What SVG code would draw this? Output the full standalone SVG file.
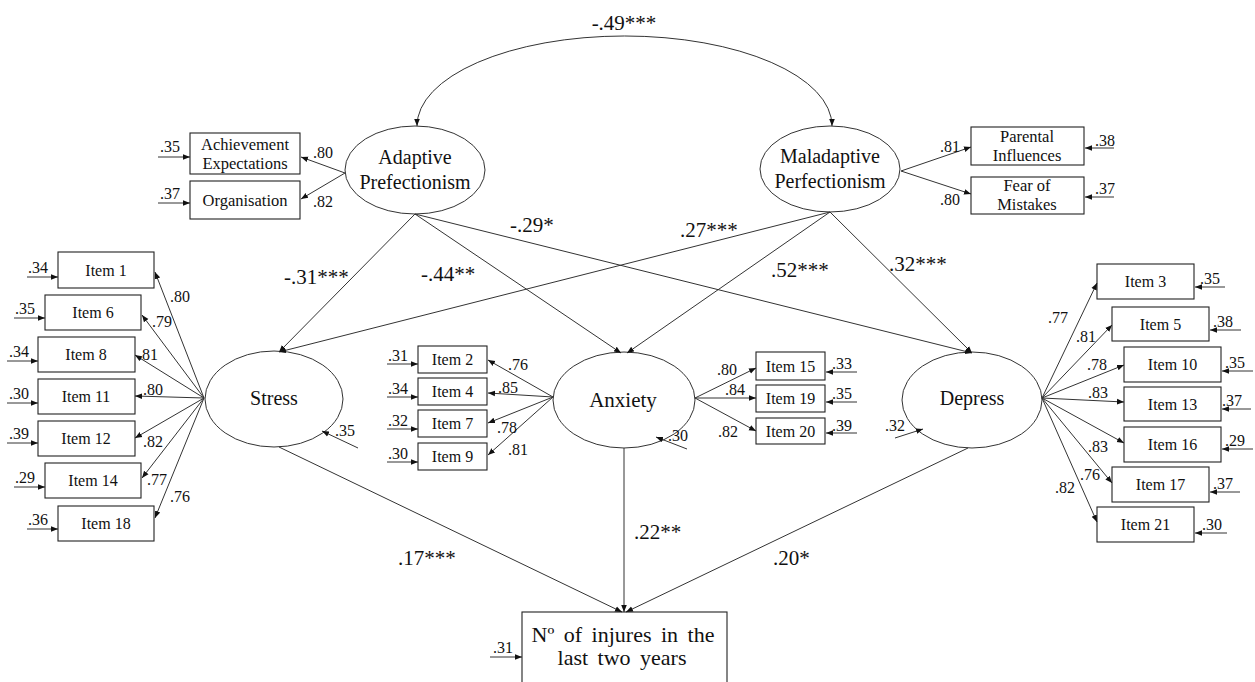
<svg xmlns="http://www.w3.org/2000/svg" width="1255" height="682" viewBox="0 0 1255 682" font-family="'Liberation Serif', 'Times New Roman', serif">
<style>
text{font-family:"Liberation Serif","Times New Roman",serif;fill:#111}
.lat{fill:#fff;stroke:#333;stroke-width:1}
.box{fill:#fff;stroke:#222;stroke-width:1.1}
.ln{stroke:#333;stroke-width:1;fill:none}
.lat-t{font-size:20px;text-anchor:middle}
.it{font-size:16px;text-anchor:middle}
.sm{font-size:16.5px;text-anchor:middle}
.ld{font-size:16px}
.pth{font-size:21px}
.out{font-size:22px;text-anchor:middle;word-spacing:4px}
</style>
<defs>
<marker id="ah" viewBox="0 0 10 10" refX="10" refY="5" markerWidth="7" markerHeight="7" orient="auto-start-reverse" markerUnits="userSpaceOnUse">
<path d="M0,1 L10,5 L0,9 z" fill="#111"/>
</marker>
</defs>

<!-- latent nodes -->
<g id="adaptive"><ellipse class="lat" cx="415" cy="170" rx="70" ry="44"/>
<text class="lat-t" x="415" y="164">Adaptive</text><text class="lat-t" x="415" y="189">Prefectionism</text></g>
<g id="maladaptive"><ellipse class="lat" cx="830" cy="169" rx="70" ry="43"/>
<text class="lat-t" x="830" y="163">Maladaptive</text><text class="lat-t" x="830" y="188">Perfectionism</text></g>
<g id="stress"><ellipse class="lat" cx="274" cy="399" rx="69" ry="48"/>
<text class="lat-t" x="274" y="405">Stress</text></g>
<g id="anxiety"><ellipse class="lat" cx="624" cy="400" rx="71" ry="48"/>
<text class="lat-t" x="623" y="407" style="font-size:21px">Anxiety</text></g>
<g id="depress"><ellipse class="lat" cx="972" cy="400" rx="70" ry="48"/>
<text class="lat-t" x="972" y="405">Depress</text></g>

<!-- perfectionism indicators -->
<g id="achievement"><rect class="box" x="190" y="133" width="110" height="41"/>
<text class="sm" x="245" y="150">Achievement</text><text class="sm" x="245" y="169">Expectations</text></g>
<g id="organisation"><rect class="box" x="190" y="181" width="110" height="38"/>
<text class="sm" x="245" y="206">Organisation</text></g>
<g id="parental"><rect class="box" x="971" y="127" width="113" height="38"/>
<text class="sm" x="1027" y="142">Parental</text><text class="sm" x="1027" y="161">Influences</text></g>
<g id="fear"><rect class="box" x="971" y="177" width="113" height="37"/>
<text class="sm" x="1027" y="191">Fear of</text><text class="sm" x="1027" y="210">Mistakes</text></g>

<!-- stress items -->
<g id="item1"><rect class="box" x="58" y="252" width="96" height="36"/><text class="it" x="106" y="276">Item 1</text></g>
<g id="item6"><rect class="box" x="45" y="295" width="96" height="35"/><text class="it" x="93" y="318">Item 6</text></g>
<g id="item8"><rect class="box" x="38" y="337" width="97" height="35"/><text class="it" x="86" y="360">Item 8</text></g>
<g id="item11"><rect class="box" x="38" y="379" width="97" height="35"/><text class="it" x="86" y="402">Item 11</text></g>
<g id="item12"><rect class="box" x="38" y="421" width="97" height="35"/><text class="it" x="86" y="444">Item 12</text></g>
<g id="item14"><rect class="box" x="45" y="463" width="96" height="35"/><text class="it" x="93" y="486">Item 14</text></g>
<g id="item18"><rect class="box" x="58" y="506" width="96" height="35"/><text class="it" x="106" y="529">Item 18</text></g>

<!-- anxiety items -->
<g id="item2"><rect class="box" x="418" y="346" width="69" height="27"/><text class="it" x="452.5" y="365">Item 2</text></g>
<g id="item4"><rect class="box" x="418" y="378" width="69" height="27"/><text class="it" x="452.5" y="397">Item 4</text></g>
<g id="item7"><rect class="box" x="418" y="410" width="69" height="27"/><text class="it" x="452.5" y="429">Item 7</text></g>
<g id="item9"><rect class="box" x="418" y="443" width="69" height="27"/><text class="it" x="452.5" y="462">Item 9</text></g>
<g id="item15"><rect class="box" x="756" y="352" width="69" height="28"/><text class="it" x="790.5" y="372">Item 15</text></g>
<g id="item19"><rect class="box" x="756" y="385" width="69" height="27"/><text class="it" x="790.5" y="404">Item 19</text></g>
<g id="item20"><rect class="box" x="756" y="418" width="69" height="26"/><text class="it" x="790.5" y="437">Item 20</text></g>

<!-- depress items -->
<g id="item3"><rect class="box" x="1097" y="264" width="97" height="35"/><text class="it" x="1145.5" y="287">Item 3</text></g>
<g id="item5"><rect class="box" x="1112" y="307" width="97" height="34"/><text class="it" x="1160.5" y="330">Item 5</text></g>
<g id="item10"><rect class="box" x="1124" y="347" width="97" height="35"/><text class="it" x="1172.5" y="370">Item 10</text></g>
<g id="item13"><rect class="box" x="1124" y="387" width="97" height="34"/><text class="it" x="1172.5" y="410">Item 13</text></g>
<g id="item16"><rect class="box" x="1124" y="427" width="97" height="35"/><text class="it" x="1172.5" y="450">Item 16</text></g>
<g id="item17"><rect class="box" x="1112" y="467" width="97" height="35"/><text class="it" x="1160.5" y="490">Item 17</text></g>
<g id="item21"><rect class="box" x="1097" y="507" width="97" height="35"/><text class="it" x="1145.5" y="530">Item 21</text></g>

<!-- outcome -->
<g id="injuries"><rect class="box" x="522" y="612" width="205" height="80"/>
<text class="out" x="623" y="642">Nº of injures in the</text>
<text class="out" x="622" y="665">last two years</text></g>

<g id="connectors" class="ln" marker-end="url(#ah)">
<path d="M417,126 A 207.5,90 0 0 1 832,126" marker-start="url(#ah)"/>
<line x1="345" y1="173" x2="301" y2="157"/>
<line x1="345" y1="173" x2="301" y2="199"/>
<line x1="158" y1="157" x2="190" y2="157"/>
<line x1="158" y1="203" x2="190" y2="203"/>
<line x1="901" y1="171" x2="971" y2="147"/>
<line x1="901" y1="171" x2="971" y2="194"/>
<line x1="1114" y1="148" x2="1085" y2="148"/>
<line x1="1114" y1="197" x2="1085" y2="197"/>
<line x1="415" y1="214" x2="279" y2="352"/>
<line x1="415" y1="214" x2="621" y2="353"/>
<line x1="415" y1="214" x2="972" y2="353"/>
<line x1="830" y1="212" x2="279" y2="352"/>
<line x1="830" y1="212" x2="627" y2="353"/>
<line x1="830" y1="212" x2="972" y2="353"/>
<line x1="279" y1="447" x2="622" y2="612"/>
<line x1="624" y1="448" x2="624" y2="612"/>
<line x1="968" y1="448" x2="626" y2="612"/>
<line x1="490" y1="657" x2="522" y2="657"/>
<line x1="358" y1="448" x2="322" y2="431"/>
<line x1="687" y1="449" x2="656" y2="437"/>
<line x1="895" y1="438" x2="923" y2="429"/>
<line x1="204" y1="398" x2="155" y2="272"/>
<line x1="204" y1="398" x2="142" y2="315"/>
<line x1="204" y1="398" x2="135" y2="355"/>
<line x1="204" y1="398" x2="135" y2="396"/>
<line x1="204" y1="398" x2="135" y2="438"/>
<line x1="204" y1="398" x2="142" y2="478"/>
<line x1="204" y1="398" x2="155" y2="518"/>
<line x1="27" y1="277" x2="58" y2="277"/>
<line x1="14" y1="318" x2="45" y2="318"/>
<line x1="7" y1="361" x2="38" y2="361"/>
<line x1="7" y1="403" x2="38" y2="403"/>
<line x1="7" y1="443" x2="38" y2="443"/>
<line x1="14" y1="487" x2="45" y2="487"/>
<line x1="27" y1="529" x2="58" y2="529"/>
<line x1="553" y1="397" x2="488" y2="360"/>
<line x1="553" y1="397" x2="488" y2="393"/>
<line x1="553" y1="397" x2="488" y2="423"/>
<line x1="553" y1="397" x2="488" y2="455"/>
<line x1="387" y1="364" x2="418" y2="364"/>
<line x1="387" y1="397" x2="418" y2="397"/>
<line x1="387" y1="429" x2="418" y2="429"/>
<line x1="387" y1="462" x2="418" y2="462"/>
<line x1="695" y1="398" x2="756" y2="368"/>
<line x1="695" y1="398" x2="756" y2="398"/>
<line x1="695" y1="398" x2="756" y2="431"/>
<line x1="857" y1="372" x2="826" y2="372"/>
<line x1="857" y1="402" x2="826" y2="402"/>
<line x1="857" y1="433" x2="826" y2="433"/>
<line x1="1042" y1="398" x2="1097" y2="283"/>
<line x1="1042" y1="398" x2="1112" y2="325"/>
<line x1="1042" y1="398" x2="1124" y2="365"/>
<line x1="1042" y1="398" x2="1124" y2="402"/>
<line x1="1042" y1="398" x2="1124" y2="443"/>
<line x1="1042" y1="398" x2="1112" y2="483"/>
<line x1="1042" y1="398" x2="1097" y2="522"/>
<line x1="1225" y1="287" x2="1195" y2="287"/>
<line x1="1241" y1="330" x2="1210" y2="330"/>
<line x1="1253" y1="371" x2="1222" y2="371"/>
<line x1="1251" y1="409" x2="1222" y2="409"/>
<line x1="1253" y1="449" x2="1222" y2="449"/>
<line x1="1240" y1="492" x2="1210" y2="492"/>
<line x1="1227" y1="533" x2="1195" y2="533"/>
</g>

<g id="labels">
<text class="pth" x="624" y="30" text-anchor="middle">-.49***</text>
<text class="pth" x="284" y="284">-.31***</text>
<text class="pth" x="421" y="281">-.44**</text>
<text class="pth" x="510" y="232">-.29*</text>
<text class="pth" x="680" y="237">.27***</text>
<text class="pth" x="771" y="277">.52***</text>
<text class="pth" x="889" y="271">.32***</text>
<text class="pth" x="398" y="565">.17***</text>
<text class="pth" x="634" y="539">.22**</text>
<text class="pth" x="773" y="565">.20*</text>

<text class="ld" x="160" y="152">.35</text>
<text class="ld" x="160" y="199">.37</text>
<text class="ld" x="313" y="158">.80</text>
<text class="ld" x="313" y="207">.82</text>
<text class="ld" x="940" y="152">.81</text>
<text class="ld" x="940" y="205">.80</text>
<text class="ld" x="1095" y="146">.38</text>
<text class="ld" x="1095" y="194">.37</text>

<text class="ld" x="28" y="273">.34</text>
<text class="ld" x="15" y="314">.35</text>
<text class="ld" x="9" y="357">.34</text>
<text class="ld" x="9" y="399">.30</text>
<text class="ld" x="9" y="439">.39</text>
<text class="ld" x="15" y="483">.29</text>
<text class="ld" x="28" y="525">.36</text>
<text class="ld" x="170" y="302">.80</text>
<text class="ld" x="152" y="327">.79</text>
<text class="ld" x="138" y="360">.81</text>
<text class="ld" x="143" y="395">.80</text>
<text class="ld" x="143" y="447">.82</text>
<text class="ld" x="147" y="485">.77</text>
<text class="ld" x="170" y="502">.76</text>
<text class="ld" x="335" y="436">.35</text>

<text class="ld" x="388" y="361">.31</text>
<text class="ld" x="388" y="394">.34</text>
<text class="ld" x="388" y="426">.32</text>
<text class="ld" x="388" y="459">.30</text>
<text class="ld" x="508" y="370">.76</text>
<text class="ld" x="498" y="393">.85</text>
<text class="ld" x="497" y="433">.78</text>
<text class="ld" x="508" y="455">.81</text>
<text class="ld" x="668" y="441">.30</text>

<text class="ld" x="717" y="375">.80</text>
<text class="ld" x="725" y="395">.84</text>
<text class="ld" x="718" y="437">.82</text>
<text class="ld" x="832" y="369">.33</text>
<text class="ld" x="832" y="399">.35</text>
<text class="ld" x="832" y="431">.39</text>

<text class="ld" x="885" y="431">.32</text>
<text class="ld" x="1048" y="323">.77</text>
<text class="ld" x="1076" y="342">.81</text>
<text class="ld" x="1087" y="370">.78</text>
<text class="ld" x="1088" y="398">.83</text>
<text class="ld" x="1088" y="452">.83</text>
<text class="ld" x="1080" y="480">.76</text>
<text class="ld" x="1055" y="493">.82</text>
<text class="ld" x="1200" y="284">.35</text>
<text class="ld" x="1213" y="327">.38</text>
<text class="ld" x="1225" y="368">.35</text>
<text class="ld" x="1222" y="406">.37</text>
<text class="ld" x="1225" y="446">.29</text>
<text class="ld" x="1213" y="489">.37</text>
<text class="ld" x="1202" y="530">.30</text>

<text class="ld" x="493" y="653">.31</text>
</g>
</svg>
